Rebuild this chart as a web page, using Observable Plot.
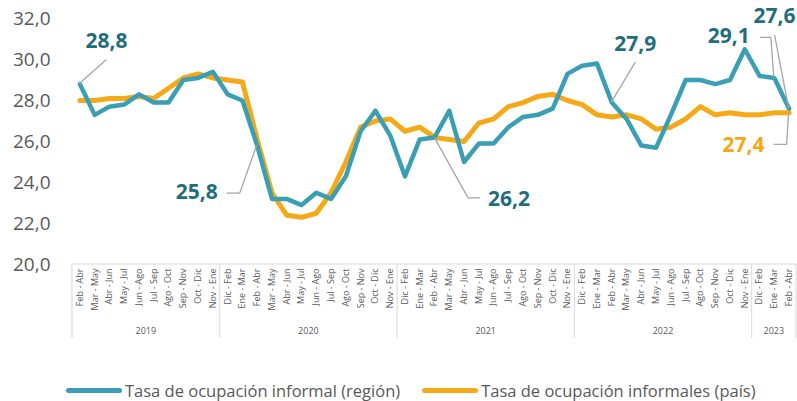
<!DOCTYPE html>
<html>
<head>
<meta charset="utf-8">
<script src="https://cdn.jsdelivr.net/npm/d3@7"></script>
<script src="https://cdn.jsdelivr.net/npm/@observablehq/plot@0.6"></script>
<style>
  html, body { margin: 0; padding: 0; background: #fff; }
  #legend { display: flex; align-items: center; height: 26px; padding-top: 17px; padding-left: 66px;
    font-family: "Open Sans", sans-serif; font-size: 16.5px; color: #595959; }
  .sw { display: inline-block; width: 56px; height: 5px; border-radius: 3px; margin-right: 3px; }
</style>
</head>
<body>
<div id="chart"></div>
<div id="legend">
  <span class="sw" style="background:#3a9fb5"></span><span>Tasa de ocupación informal (región)</span>
  <span class="sw" style="background:#f6a917;margin-left:22px"></span><span>Tasa de ocupación informales (país)</span>
</div>
<script>
const tickLabels = [
  "Feb - Abr","Mar - May","Abr - Jun","May - Jul","Jun - Ago","Jul - Sep","Ago - Oct","Sep - Nov","Oct - Dic","Nov - Ene",
  "Dic - Feb","Ene - Mar","Feb - Abr","Mar - May","Abr - Jun","May - Jul","Jun - Ago","Jul - Sep","Ago - Oct","Sep - Nov","Oct - Dic","Nov - Ene",
  "Dic - Feb","Ene - Mar","Feb - Abr","Mar - May","Abr - Jun","May - Jul","Jun - Ago","Jul - Sep","Ago - Oct","Sep - Nov","Oct - Dic","Nov - Ene",
  "Dic - Feb","Ene - Mar","Feb - Abr","Mar - May","Abr - Jun","May - Jul","Jun - Ago","Jul - Sep","Ago - Oct","Sep - Nov","Oct - Dic","Nov - Ene",
  "Dic - Feb","Ene - Mar","Feb - Abr"
];
const years = ["2019","2020","2021","2022","2023"];
const yearCounts = [10, 12, 12, 12, 3];
const region = [
  28.8,27.3,27.7,27.8,28.3,27.9,27.9,29.0,29.1,29.4,
  28.3,28.0,25.8,23.2,23.2,22.9,23.5,23.2,24.3,26.5,27.5,26.3,
  24.3,26.1,26.2,27.5,25.0,25.9,25.9,26.7,27.2,27.3,27.6,29.3,
  29.7,29.8,27.9,27.1,25.8,25.7,27.3,29.0,29.0,28.8,29.0,30.5,
  29.2,29.1,27.6
];
const country = [
  28.0,28.0,28.1,28.1,28.2,28.1,28.6,29.1,29.3,29.1,
  29.0,28.9,26.1,23.5,22.4,22.3,22.5,23.5,25.0,26.7,27.0,27.1,
  26.5,26.7,26.2,26.1,26.0,26.9,27.1,27.7,27.9,28.2,28.3,28.0,
  27.8,27.3,27.2,27.3,27.1,26.6,26.7,27.1,27.7,27.3,27.4,27.3,
  27.3,27.4,27.4
];
const yTicks = [20, 22, 24, 26, 28, 30, 32];
// annotated points: index, series
const annotations = [
  {i: 0,  series: "region"},
  {i: 12, series: "region"},
  {i: 24, series: "region"},
  {i: 36, series: "region"},
  {i: 47, series: "region"},
  {i: 48, series: "region"},
  {i: 48, series: "country"}
];
// layout of annotation labels (pixel offsets, styling only)
const annotLayout = [
  {dx: 27,  dy: -41, path: [[0,0],[27,-24]]},
  {dx: -60, dy: 48,  path: [[0,0],[-17,48],[-30,48]]},
  {dx: 75,  dy: 63,  path: [[0,0],[34,61],[46,61]]},
  {dx: 24,  dy: -57, path: [[0,0],[24,-40]]},
  {dx: -45, dy: -40, path: [[0,0],[-3,-40],[-14,-40]]},
  {dx: -14, dy: -91, path: [[0,0],[-14,-73]]},
  {dx: -45, dy: 34,  path: [[0,0],[-2,32],[-15,32]]}
];

const fmt = v => v.toFixed(1).replace(".", ",");
const idx = d3.range(tickLabels.length);
const rows = idx.map(i => ({i, region: region[i], country: country[i]}));
const annData = annotations.map((a, k) => ({...a, v: a.series === "region" ? region[a.i] : country[a.i], ...annotLayout[k]}));

function decorations(index, scales, values, dimensions) {
  const {x, y} = scales;
  const step = x(1) - x(0);
  const g = d3.create("svg:g");
  const y0 = y(20);
  const left = x(0) - step / 2, right = x(idx.length - 1) + step / 2;
  g.append("line").attr("x1", left).attr("x2", right).attr("y1", y0).attr("y2", y0)
    .attr("stroke", "#d9d9d9").attr("stroke-width", 1);
  let start = 0;
  const bounds = [left];
  years.forEach((yr, k) => {
    const n = yearCounts[k];
    const mid = (x(start) + x(start + n - 1)) / 2;
    g.append("text").attr("x", mid).attr("y", y0 + 68).attr("text-anchor", "middle")
      .attr("dominant-baseline", "middle").attr("font-size", 9).attr("fill", "#595959").text(yr);
    start += n;
    bounds.push(x(start - 1) + step / 2);
  });
  bounds.forEach(bx => {
    g.append("line").attr("x1", bx).attr("x2", bx).attr("y1", y0).attr("y2", y0 + 74)
      .attr("stroke", "#d9d9d9").attr("stroke-width", 1);
  });
  // annotation connectors and labels
  annData.forEach(a => {
    const px = x(a.i), py = y(a.v);
    const pts = a.path.map(([ox, oy]) => [px + ox, py + oy]);
    g.append("path").attr("d", d3.line()(pts)).attr("fill", "none")
      .attr("stroke", "#a6a6a6").attr("stroke-width", 1.3);
    g.append("text").attr("x", px + a.dx).attr("y", py + a.dy).attr("text-anchor", "middle")
      .attr("dominant-baseline", "middle").attr("font-size", 21).attr("font-weight", "bold")
      .attr("fill", a.series === "region" ? "#1f6e7e" : "#f5a814").text(fmt(a.v));
  });
  return g.node();
}

const chart = Plot.plot({
  width: 797,
  height: 360,
  marginTop: 18,
  marginBottom: 96,
  marginLeft: 72,
  marginRight: 1,
  style: {fontFamily: "Open Sans, sans-serif", color: "#595959", background: "#fff"},
  x: {type: "point", domain: idx, padding: 0.5},
  y: {domain: [20, 32]},
  marks: [
    Plot.axisY({ticks: yTicks, tickFormat: fmt, tickSize: 0, tickPadding: 22, fontSize: 19, label: null}),
    Plot.axisX({tickFormat: i => tickLabels[i], tickRotate: -90, tickSize: 0, tickPadding: 4, fontSize: 9, label: null}),
    Plot.line(rows, {x: "i", y: "country", stroke: "#f6a917", strokeWidth: 5, strokeLinejoin: "round"}),
    Plot.line(rows, {x: "i", y: "region", stroke: "#3a9fb5", strokeWidth: 4.5, strokeLinejoin: "round"}),
    decorations
  ]
});
document.getElementById("chart").appendChild(chart);
</script>
</body>
</html>
